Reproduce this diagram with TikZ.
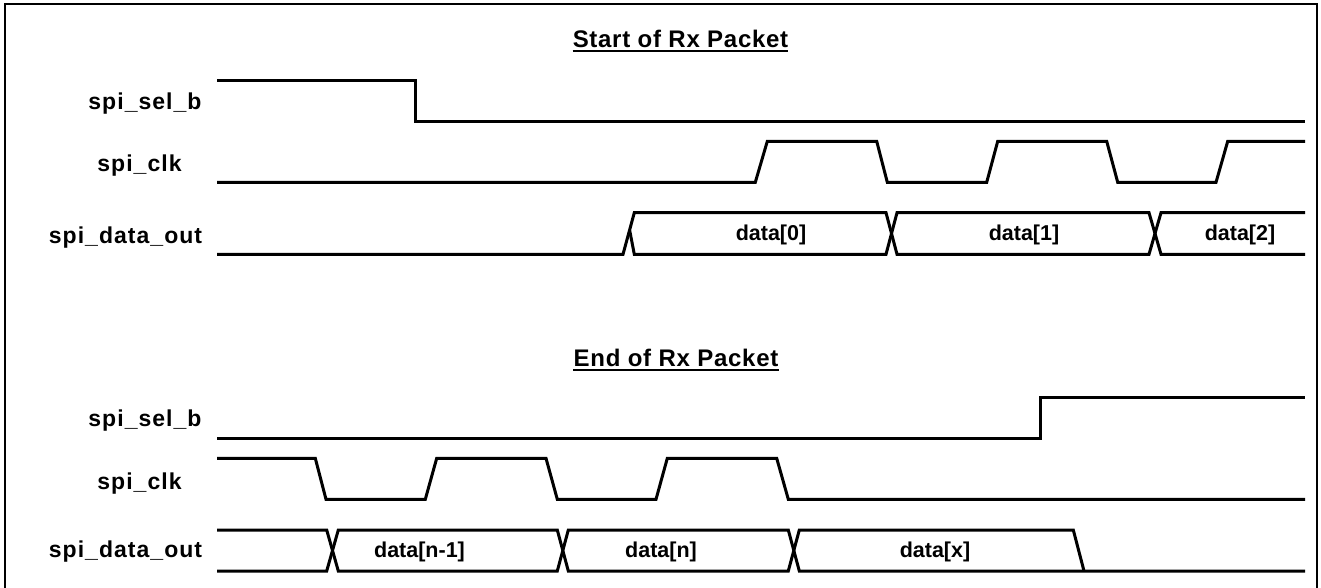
\documentclass[tikz,border=0pt]{standalone}
\usepackage{fontspec}
\setmainfont{Liberation Sans}
\newfontfamily\sigfont{Liberation Sans}[LetterSpace=4.5]
\newfontfamily\ttlfont{Liberation Sans}[LetterSpace=3]
\begin{document}
\begin{tikzpicture}[x=1pt,y=-1pt,
  wave/.style={line width=3pt,line join=miter},
  frame/.style={line width=2pt},
  signame/.style={inner sep=0pt,anchor=base,font=\sigfont\bfseries\fontsize{23}{27}\selectfont},
  buslabel/.style={inner sep=0pt,anchor=base,font=\bfseries\fontsize{21.5}{26}\selectfont},
  heading/.style={inner sep=0pt,anchor=base,font=\ttlfont\bfseries\fontsize{24}{28}\selectfont},
  ul/.style={line width=2pt}]
\useasboundingbox (0,0) rectangle (1321,588);
\clip (0,0) rectangle (1321,588);
% outer frame (its lower edge falls below the page)
\draw[frame] (5,4) rectangle (1317,600);

% ---------------- start of packet ----------------
\node[heading] (t1) at (680.5,48) {Start of Rx Packet};
\draw[ul] ([yshift=-3.5pt]t1.base west) -- ([yshift=-3.5pt]t1.base east);

\node[signame] (s1) at (145,110) {spi\_sel\_b};
\node[signame] (c1) at (139.5,171.7) {spi\_clk};
\node[signame] (d1) at (125.5,243) {spi\_data\_out};

% chip select falls
\draw[wave] (217,80.3) -- (415,80.3) -- (415,121.3) -- (1305,121.3);
% clock
\draw[wave] (217,182.3) -- (755.3,182.3) -- (767.3,141.3) -- (876.7,141.3)
  -- (887.3,182.3) -- (986.7,182.3) -- (997.7,141.3) -- (1106.7,141.3)
  -- (1117.7,182.3) -- (1216,182.3) -- (1227.7,141.3) -- (1305,141.3);
% data bus
\draw[wave] (217,254.3) -- (623,254.3) -- (634.3,212.7) -- (886,212.7)
  -- (897,254.3) -- (1149,254.3) -- (1161,212.7) -- (1305,212.7);
\draw[wave] (629.6,230) -- (634.3,254.3) -- (886,254.3) -- (897,212.7)
  -- (1149,212.7) -- (1161,254.3) -- (1305,254.3);
\node[buslabel] (b0) at (771,240.5) {data[0]};
\node[buslabel] (b1) at (1024,240.5) {data[1]};
\node[buslabel] (b2) at (1240,240.5) {data[2]};

% ---------------- end of packet ----------------
\node[heading] (t2) at (676,366.5) {End of Rx Packet};
\draw[ul] ([yshift=-3.5pt]t2.base west) -- ([yshift=-3.5pt]t2.base east);

\node[signame] (s2) at (145,426) {spi\_sel\_b};
\node[signame] (c2) at (139.5,489.3) {spi\_clk};
\node[signame] (d2) at (125.5,557.7) {spi\_data\_out};

% chip select rises
\draw[wave] (217,438.3) -- (1040.3,438.3) -- (1040.3,397.3) -- (1305,397.3);
% clock
\draw[wave] (217,458.3) -- (315.3,458.3) -- (326,499.3) -- (425.3,499.3)
  -- (436.7,458.3) -- (546,458.3) -- (557.3,499.3) -- (656,499.3)
  -- (667.3,458.3) -- (776.7,458.3) -- (788.3,499.3) -- (1305,499.3);
% data bus
\draw[wave] (217,530) -- (326.7,530) -- (338.3,571) -- (557.3,571)
  -- (568.3,530) -- (788.3,530) -- (799.3,571) -- (1305,571);
\draw[wave] (217,571) -- (326.7,571) -- (338.3,530) -- (557.3,530)
  -- (568.3,571) -- (788.3,571) -- (799.3,530) -- (1073.3,530) -- (1084,571);
\node[buslabel] (bn1) at (419.5,557.7) {data[n-1]};
\node[buslabel] (bn) at (661,557.7) {data[n]};
\node[buslabel] (bx) at (935,557.7) {data[x]};
\end{tikzpicture}
\end{document}
